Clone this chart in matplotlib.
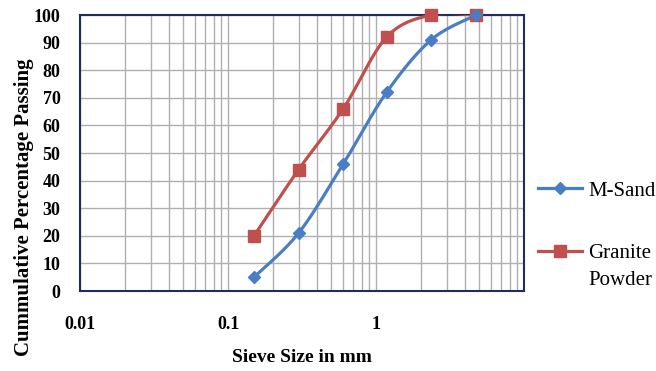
import numpy as np
import matplotlib
matplotlib.use("Agg")
import matplotlib.pyplot as plt
from matplotlib.ticker import FixedLocator, LogLocator, NullFormatter

sieve_mm = [0.15, 0.3, 0.6, 1.18, 2.36, 4.75]
msand = [5, 21, 46, 72, 91, 100]
granite = [20, 44, 66, 92, 100, 100]
x_ticks = [0.01, 0.1, 1]
x_tick_labels = ["0.01", "0.1", "1"]
y_ticks = list(range(0, 101, 10))

def smooth(xs, ys, n=30):
    lx = np.log10(xs)
    y = np.asarray(ys, float)
    px = np.concatenate([[lx[0]], lx, [lx[-1]]])
    py = np.concatenate([[y[0]], y, [y[-1]]])
    ox, oy = [], []
    for i in range(1, len(px) - 2):
        p0 = np.array([px[i-1], py[i-1]]); p1 = np.array([px[i], py[i]])
        p2 = np.array([px[i+1], py[i+1]]); p3 = np.array([px[i+2], py[i+2]])
        c1 = p1 + (p2 - p0) / 6.0
        c2 = p2 - (p3 - p1) / 6.0
        t = np.linspace(0, 1, n)[:, None]
        b = (1-t)**3*p1 + 3*(1-t)**2*t*c1 + 3*(1-t)*t**2*c2 + t**3*p2
        ox.extend(b[:, 0]); oy.extend(b[:, 1])
    return 10**np.array(ox), np.array(oy)

W, H = 656, 371
fig = plt.figure(figsize=(W/100, H/100), dpi=100)
ax = fig.add_axes([80/W, 1-291/H, (524-80)/W, (291-15)/H])

blue = "#4A7EC4"
red = "#C0504D"
serif = "Liberation Serif"

sx, sy = smooth(sieve_mm, granite)
ax.plot(sx, sy, color=red, lw=2.3, zorder=3)
ax.plot(sieve_mm, granite, ls="none", marker="s", ms=9, color=red, zorder=4, clip_on=False)
sx, sy = smooth(sieve_mm, msand)
ax.plot(sx, sy, color=blue, lw=2.3, zorder=3)
ax.plot(sieve_mm, msand, ls="none", marker="D", ms=6, color=blue, zorder=4, clip_on=False)

h1, = ax.plot([], [], color=blue, lw=2.3, marker="D", ms=6)
h2, = ax.plot([], [], color=red, lw=2.3, marker="s", ms=9)

ax.set_xscale("log")
ax.set_xlim(0.01, 10)
ax.set_ylim(0, 100)
ax.xaxis.set_major_locator(FixedLocator(x_ticks))
ax.set_xticklabels(x_tick_labels)
ax.xaxis.set_minor_locator(LogLocator(base=10, subs=np.arange(2, 10)))
ax.xaxis.set_minor_formatter(NullFormatter())
ax.set_yticks(y_ticks)

ax.grid(True, which="both", axis="x", color="#b0b0b0", lw=1)
ax.grid(True, which="major", axis="y", color="#b0b0b0", lw=1)
ax.set_axisbelow(True)
ax.tick_params(which="both", length=0)
ax.tick_params(axis="y", pad=14)
ax.tick_params(axis="x", pad=18)

for lab in ax.get_xticklabels() + ax.get_yticklabels():
    lab.set_fontfamily(serif)
    lab.set_fontweight("bold")
    lab.set_fontsize(13)

for s in ax.spines.values():
    s.set_color("#1F2D5A")
    s.set_linewidth(1.5)

ax.set_xlabel("Sieve Size in mm", fontfamily=serif, fontweight="bold", fontsize=14)
ax.xaxis.set_label_coords(0.5, (291-349)/276)
ax.set_ylabel("Cummulative Percentage Passing", fontfamily=serif, fontweight="bold", fontsize=15)
ax.yaxis.set_label_coords((34-80)/444, (291-207)/276)

leg = fig.legend([h1, h2], ["M-Sand", "Granite"], loc="upper left",
                 bbox_to_anchor=(538/W, 1-181/H), frameon=False,
                 prop={"family": serif, "size": 15}, borderpad=0, borderaxespad=0,
                 labelspacing=2.05, handlelength=2.1, handletextpad=0.3)

fig.canvas.draw()
t = leg.get_texts()[1]
bb = t.get_window_extent(fig.canvas.get_renderer())
inv = fig.transFigure.inverted()
x0, y0 = inv.transform((bb.x0, bb.y0))
fig.text(x0, y0 - 27/H, "Powder", fontfamily=serif, fontsize=15, ha="left", va="bottom")

fig.savefig("out.png", dpi=100)
